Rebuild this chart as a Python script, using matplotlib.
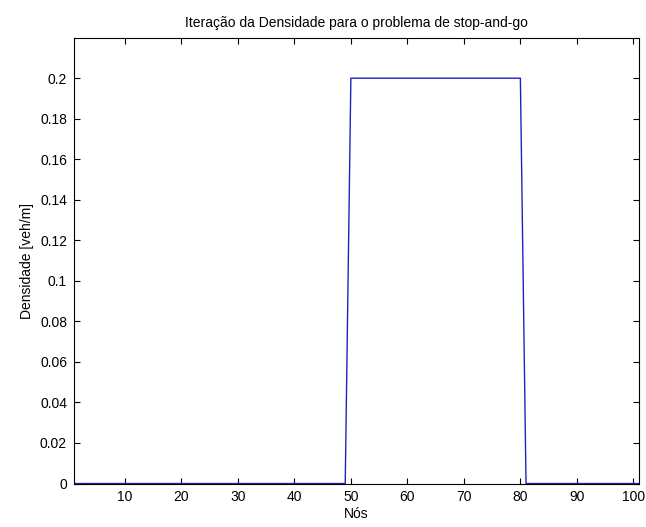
import numpy as np
import matplotlib
matplotlib.use("Agg")
import matplotlib.pyplot as plt

plt.rcParams['font.family'] = ['Liberation Sans Narrow', 'Liberation Sans', 'DejaVu Sans']

# nodes and density values
nos = np.arange(1, 102)
densidade = np.zeros(101)
densidade[49:80] = 0.2   # nodes 50..80 jammed

xticks = [10, 20, 30, 40, 50, 60, 70, 80, 90, 100]
yticks = [0, 0.02, 0.04, 0.06, 0.08, 0.1, 0.12, 0.14, 0.16, 0.18, 0.2]
ytick_labels = ["0", "0.02", "0.04", "0.06", "0.08", "0.1", "0.12", "0.14", "0.16", "0.18", "0.2"]

fig = plt.figure(figsize=(6.46, 5.27), dpi=100)
ax = fig.add_axes([0.1146, 0.0825, 0.8746, 0.846])

ax.plot(nos, densidade, color="#2020c0", linewidth=1)

ax.set_xlim(1, 101)
ax.set_ylim(0, 0.22)
ax.set_xticks(xticks)
ax.set_yticks(yticks)
ax.set_yticklabels(ytick_labels)
ax.tick_params(direction="in", top=True, right=True, labelsize=10, length=4, width=0.8, pad=5)
for s in ax.spines.values():
    s.set_linewidth(0.8)

ax.set_xlabel("Nós", fontsize=10, labelpad=2)
ax.set_ylabel("Densidade [veh/m]", fontsize=10, labelpad=4)
ax.set_title("Iteração da Densidade para o problema de stop-and-go", fontsize=10, pad=8)

fig.savefig("out.png", dpi=100)
